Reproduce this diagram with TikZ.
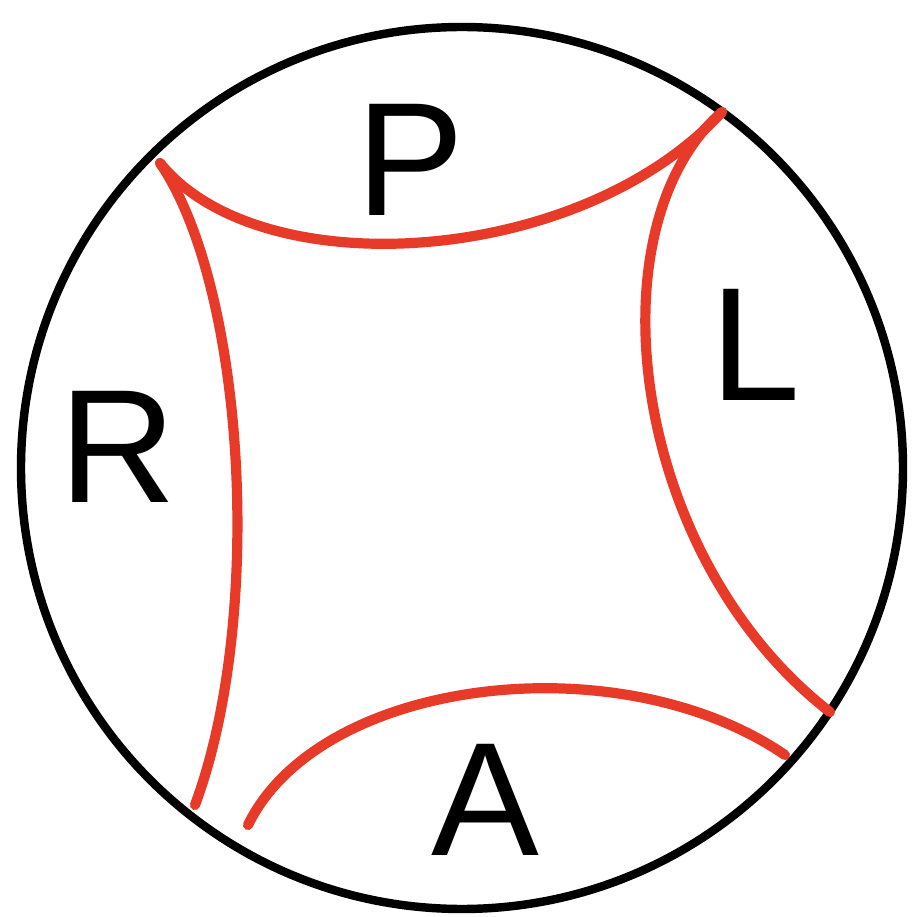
\documentclass[tikz,border=0pt]{standalone}
\usepackage{fontspec}
\setmainfont{Liberation Sans}
\usepackage{xcolor}
\usetikzlibrary{positioning}
\definecolor{rougeArc}{RGB}{232,58,40}

\begin{document}
\begin{tikzpicture}[
		disque/.style={draw=black, line width=2.4pt},
		arc/.style={draw=rougeArc, line width=2.9pt, line cap=round},
		lettre/.style={font=\fontsize{46}{50}\selectfont, inner sep=0pt}
		]
		\useasboundingbox (0,0) rectangle (9.16,9.17);
		\node[circle, disque, minimum size=8.82cm] (bord) at (4.62,4.49) {};
		
		% extremites des arcs
		\coordinate (hg) at (1.60,7.54);
		\coordinate (hd) at (7.22,8.05);
		\coordinate (bg) at (1.95,1.12);
		\coordinate (bd) at (8.30,2.05);
		\coordinate (ag) at (2.48,0.92);
		\coordinate (ad) at (7.85,1.62);
		
		\draw[arc] (hg) .. controls (2.45,6.3) and (2.65,3.0) .. (bg);
		\draw[arc] (hg) .. controls (2.6,6.3) and (5.8,6.5) .. (hd);
		\draw[arc] (hd) .. controls (5.9,6.9) and (6.3,3.6) .. (bd);
		\draw[arc] (ag) .. controls (3.2,2.4) and (6.2,2.75) .. (ad);
		
		\node[lettre] (P) at (4.10,7.57) {P};
		\node[lettre] (L) at (7.55,5.72) {L};
		\node[lettre] (R) at (1.18,4.70) {R};
		\node[lettre] (A) at (4.85,1.17) {A};
\end{tikzpicture}
\end{document}
